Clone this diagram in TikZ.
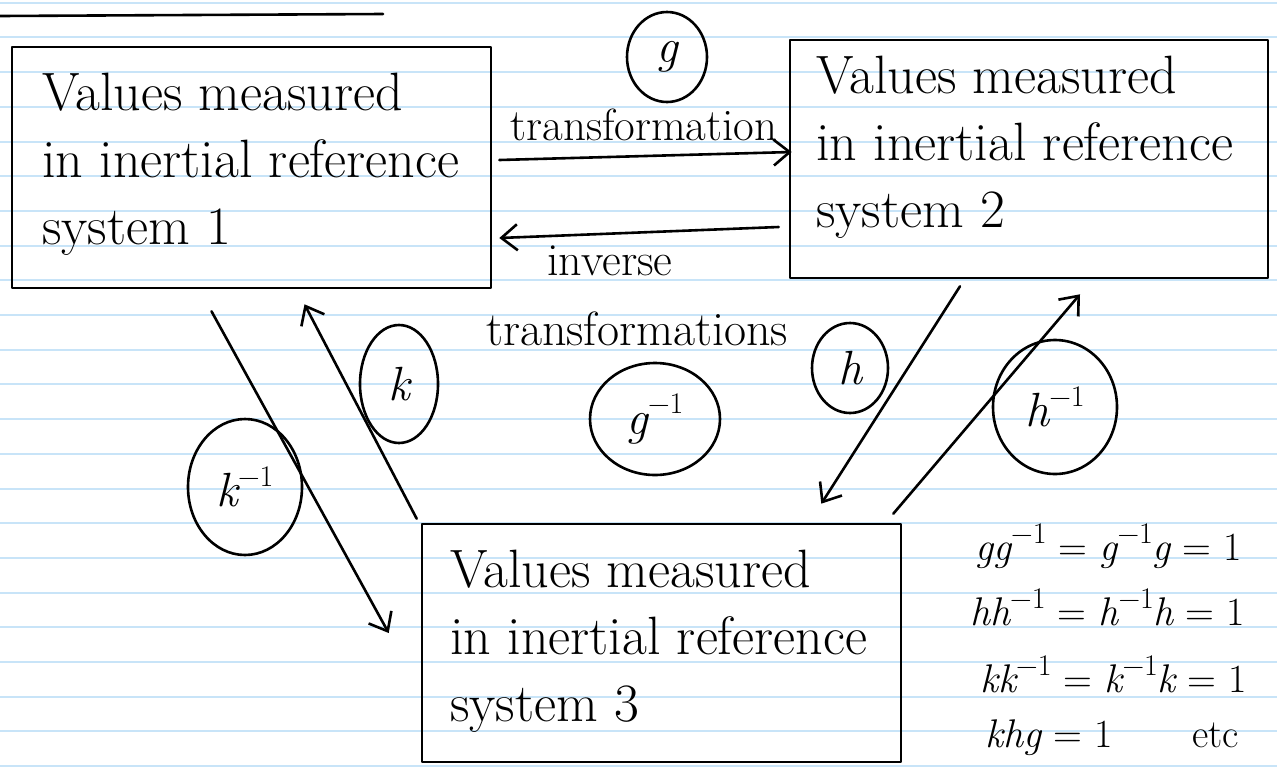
\documentclass[tikz,border=0pt]{standalone}
\usepackage{fontspec}
\usetikzlibrary{arrows.meta,shapes.geometric}
\definecolor{ruling}{HTML}{C8E4F8}
\newcommand{\vv}[1]{{\itshape #1}}
\newcommand{\inv}{\raisebox{0.42em}{\fontsize{30}{32}\selectfont −1}}
\begin{document}
\begin{tikzpicture}[x=1pt,y=-1pt,
  pen/.style={line width=2.6pt, line cap=round, line join=round},
  sysbox/.style={pen, draw, rectangle, inner sep=0pt},
  boxtext/.style={anchor=north west, inner sep=0pt, align=left, font=\fontsize{54}{67}\selectfont},
  lab/.style={inner sep=0pt, font=\fontsize{40}{48}\selectfont},
  ring/.style={pen, draw, ellipse, inner sep=0pt, font=\fontsize{48}{52}\selectfont},
  arr/.style={pen, -{Straight Barb[length=16pt,width=26pt]}},
]
\useasboundingbox[fill=white] (0,0) rectangle (1277,777);
\foreach \n in {0,...,22} \draw[ruling, line width=2pt] (0,{2.7+34.7*\n}) -- (1277,{2.7+34.7*\n});

% underline of cut-off heading
\draw[pen] (0,16) -- (383,14);

% boxes
\node[sysbox, minimum width=479pt, minimum height=241pt] (b1) at (251.5,167.5) {};
\node[sysbox, minimum width=478pt, minimum height=238pt] (b2) at (1029,159) {};
\node[sysbox, minimum width=479pt, minimum height=238pt] (b3) at (661.5,643) {};

\node[boxtext] (t1) at (42,72.5) {Values measured\\in inertial reference\\system 1};
\node[boxtext] (t2) at (816,55.5) {Values measured\\in inertial reference\\system 2};
\node[boxtext] (t3) at (450,549.5) {Values measured\\in inertial reference\\system 3};

% labels
\node[lab, anchor=base, font=\fontsize{45}{50}\selectfont] (lt) at (644,140) {transformation};
\node[lab, anchor=base, font=\fontsize{46}{50}\selectfont] (li) at (610,275) {inverse};
\node[lab, anchor=base, font=\fontsize{48}{52}\selectfont] (lis) at (637,345) {transformations};

% circled names
\node[ring, minimum width=80pt, minimum height=90pt] (cg) at (667,57) {\vv{g}};
\node[ring, minimum width=130pt, minimum height=112pt] (cgi) at (655,419) {\vv{g}\inv};
\node[ring, minimum width=78pt, minimum height=118pt] (ck) at (399,384) {\vv{k}};
\node[ring, minimum width=114pt, minimum height=136pt] (cki) at (245,487) {\vv{k}\inv};
\node[ring, minimum width=76pt, minimum height=90pt] (ch) at (850,368) {\vv{h}};
\node[ring, minimum width=124pt, minimum height=134pt] (chi) at (1055,407) {\vv{h}\inv};

% connectors
\draw[arr] ([xshift=7pt,yshift=7.5pt]b1.east) -- ([xshift=3pt,yshift=7pt]b2.west);
\draw[arr] ([xshift=-10pt,yshift=-68pt]b2.west) -- ([xshift=7pt,yshift=-70.5pt]b1.east);
\draw[arr] ([xshift=-40pt,yshift=-22pt]b1.south) -- ([xshift=-32pt,yshift=10pt]b3.west);
\draw[arr] ([xshift=-4pt,yshift=4pt]b3.north west) -- ([xshift=53pt,yshift=-15pt]b1.south);
\draw[arr] ([xshift=-69pt,yshift=-7pt]b2.south) -- ([xshift=-81pt,yshift=19pt]b3.north east);
\draw[arr] ([xshift=-9pt,yshift=9pt]b3.north east) -- ([xshift=51pt,yshift=-15pt]b2.south);

% identities
\node[lab, anchor=base west] (e1) at (975,560) {\vv{gg}\inv\ = \vv{g}\inv\vv{g} = 1};
\node[lab, anchor=base west] (e2) at (970,625) {\vv{hh}\inv\ = \vv{h}\inv\vv{h} = 1};
\node[lab, anchor=base west] (e3) at (980,692) {\vv{kk}\inv\ = \vv{k}\inv\vv{k} = 1};
\node[lab, anchor=base west] (e4) at (985,747) {\vv{khg} = 1};
\node[lab, anchor=base west] (e5) at (1192,747) {etc};
\end{tikzpicture}
\end{document}
